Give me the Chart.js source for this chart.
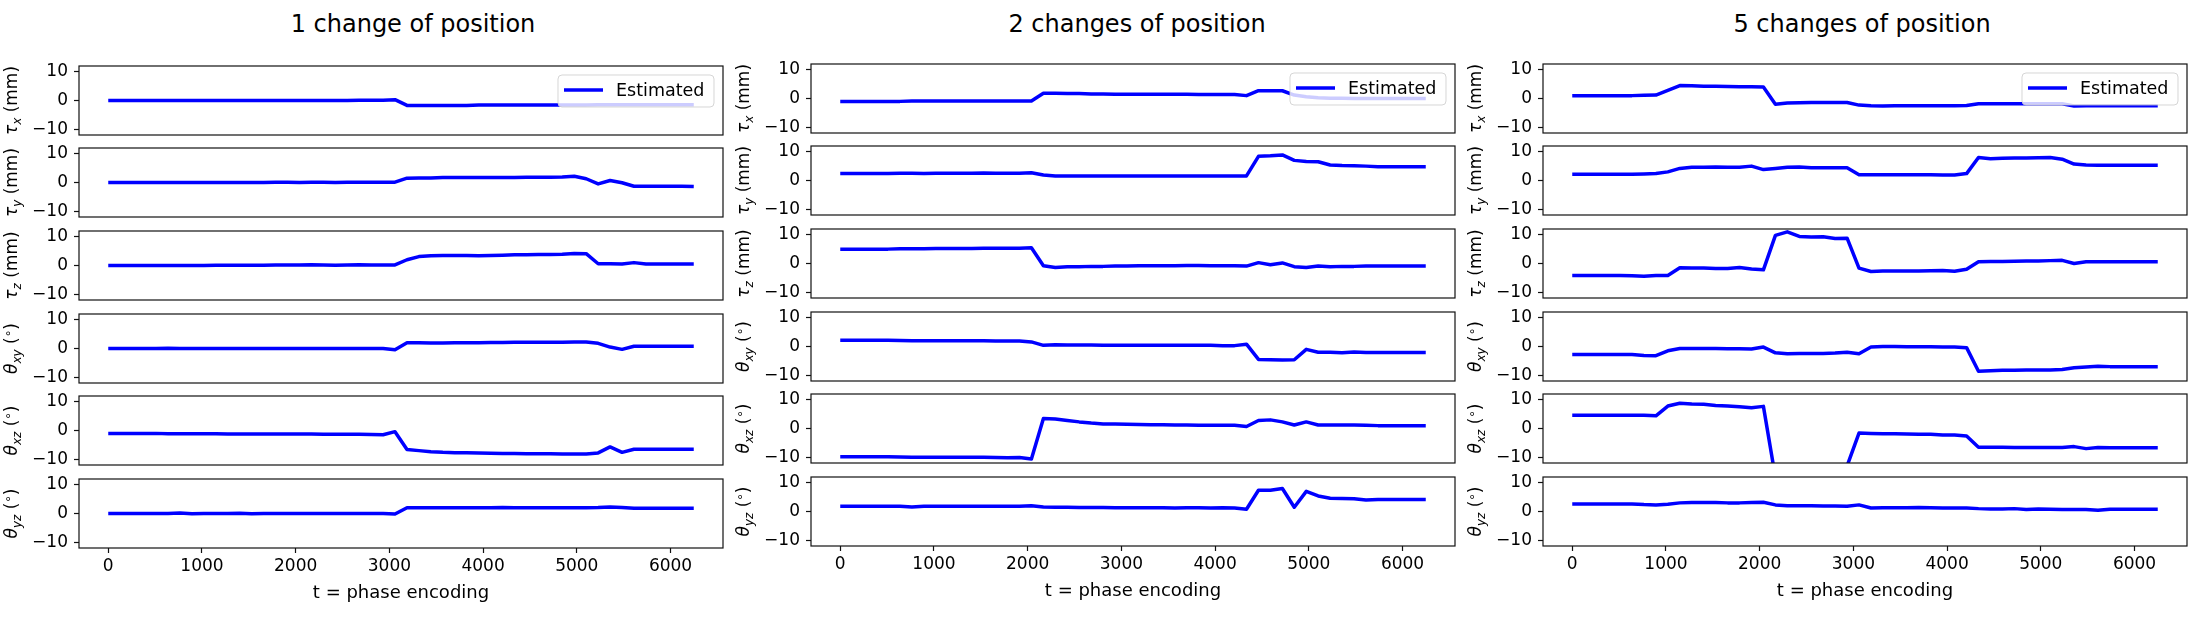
<!DOCTYPE html>
<html>
<head>
  <meta charset="utf-8">
  <title>Estimated motion parameters</title>
  <style>
    body { margin: 0; width: 2203px; height: 621px; overflow: hidden; position: relative; background: #fff; font-family: 'DejaVu Sans', sans-serif; }
    .panel { position: absolute; }
    .title { position: absolute; top: 10px; font-size: 24px; line-height: 28px; white-space: nowrap; transform: translateX(-50%); color: #000; }
  </style>
</head>
<body>
  <script src="https://cdn.jsdelivr.net/npm/chart.js"></script>
  <script>
    // phase-encoding time of each estimate
    const times = [0,128,255,383,510,638,765,893,1020,1148,
      1275,1403,1530,1658,1785,1913,2040,2168,2295,2423,
      2550,2678,2805,2933,3060,3188,3315,3443,3570,3698,
      3825,3953,4080,4208,4335,4463,4590,4718,4845,4973,
      5100,5228,5355,5483,5610,5738,5865,5993,6120,6248];
    const xTicks = [0, 1000, 2000, 3000, 4000, 5000, 6000];
    const yTicks = [-10, 0, 10];
    const colTitles = ['1 change of position', '2 changes of position', '5 changes of position'];
    const seriesLabel = 'Estimated';
    const xTitle = 't = phase encoding';

    // 1 change of position
    const tauX1 = [0,0,0,0,0,0,0,0,0,0, 0,0,0,0,0,0,0,0,0,0, 0,0.1,0.1,0.1,0.3,-1.7,-1.7,-1.7,-1.7,-1.7, -1.7,-1.6,-1.6,-1.6,-1.6,-1.6,-1.6,-1.6,-1.6,-1.6, -1.6,-1.5,-1.5,-1.5,-1.5,-1.5,-1.5,-1.5,-1.5,-1.5];
    const tauY1 = [0,0,0,0,0,0,0,0,0,0, 0,0,0,0,0.1,0.1,0,0.1,0.1,0, 0.1,0.1,0.1,0.1,0.1,1.5,1.6,1.6,1.7,1.7, 1.7,1.7,1.7,1.7,1.7,1.8,1.8,1.8,1.9,2.2, 1.3,-0.5,0.7,-0.1,-1.3,-1.3,-1.3,-1.3,-1.3,-1.4];
    const tauZ1 = [0,0,0,0,0,0,0,0,0,0.1, 0.1,0.1,0.1,0.1,0.2,0.2,0.2,0.3,0.2,0.1, 0.2,0.3,0.2,0.2,0.2,2.0,3.1,3.4,3.5,3.5, 3.5,3.4,3.5,3.6,3.7,3.7,3.8,3.8,3.9,4.2, 4.1,0.6,0.6,0.5,1.0,0.5,0.5,0.5,0.5,0.5];
    const thXY1 = [0,0,0,0,0,0.1,0,0,0,0, 0,0,0,0,0,0,0,0,0,0, 0,0,0,0,-0.4,2.0,2.0,1.9,1.9,2.0, 2.0,2.0,2.1,2.1,2.2,2.2,2.2,2.2,2.2,2.3, 2.3,1.8,0.5,-0.3,0.8,0.8,0.8,0.8,0.8,0.8];
    const thXZ1 = [-1.0,-1.0,-1.0,-1.0,-1.0,-1.1,-1.1,-1.1,-1.1,-1.1, -1.2,-1.2,-1.2,-1.2,-1.2,-1.2,-1.2,-1.2,-1.3,-1.3, -1.3,-1.3,-1.4,-1.5,-0.4,-6.6,-7.0,-7.4,-7.6,-7.7, -7.7,-7.8,-7.9,-8.0,-8.0,-8.1,-8.1,-8.1,-8.2,-8.2, -8.2,-7.8,-5.7,-7.6,-6.5,-6.5,-6.5,-6.5,-6.5,-6.5];
    const thYZ1 = [0,0,0,0,0,0,0.2,-0.1,0,0, 0,0.1,-0.1,0,0,0,0,0,0,0, 0,0,0,0,-0.2,2.0,2.0,2.0,2.0,2.0, 2.0,2.0,2.0,2.1,2.0,2.0,2.0,2.0,2.0,2.0, 2.0,2.1,2.3,2.1,1.8,1.8,1.8,1.8,1.8,1.8];

    // 2 changes of position
    const tauX2 = [-1.0,-1.0,-1.0,-1.0,-1.0,-1.0,-0.9,-0.9,-0.9,-0.9, -0.9,-0.9,-0.9,-0.9,-0.9,-0.9,-0.9,1.8,1.8,1.7, 1.7,1.6,1.6,1.5,1.5,1.5,1.5,1.5,1.5,1.5, 1.4,1.4,1.4,1.4,1.0,2.7,2.7,2.7,1.2,0.6, 0.3,0.1,0.1,0,0,0,0,0,0,0];
    const tauY2 = [2.4,2.4,2.4,2.4,2.4,2.5,2.5,2.4,2.5,2.5, 2.5,2.5,2.6,2.5,2.5,2.5,2.7,1.9,1.6,1.6, 1.6,1.6,1.6,1.6,1.6,1.6,1.6,1.6,1.6,1.6, 1.6,1.6,1.6,1.6,1.6,8.4,8.6,8.9,7.0,6.6, 6.5,5.4,5.2,5.1,5.0,4.8,4.8,4.8,4.8,4.8];
    const tauZ2 = [5.0,5.0,5.0,5.0,5.0,5.1,5.1,5.1,5.2,5.2, 5.2,5.2,5.3,5.3,5.3,5.3,5.5,-0.8,-1.4,-1.1, -1.1,-1.0,-1.0,-0.9,-0.9,-0.8,-0.8,-0.8,-0.8,-0.7, -0.7,-0.8,-0.8,-0.8,-0.9,0.3,-0.4,0.2,-1.1,-1.4, -0.9,-1.1,-1.0,-1.0,-0.9,-0.9,-0.9,-0.9,-0.9,-0.9];
    const thXY2 = [2.2,2.2,2.2,2.2,2.2,2.1,2.0,2.0,2.0,2.0, 2.0,2.0,2.0,1.9,1.9,1.9,1.6,0.4,0.6,0.5, 0.5,0.5,0.4,0.4,0.4,0.4,0.4,0.4,0.4,0.4, 0.4,0.4,0.3,0.3,0.8,-4.5,-4.6,-4.7,-4.6,-1.0, -2.0,-2.0,-2.2,-1.9,-2.1,-2.1,-2.1,-2.1,-2.1,-2.1];
    const thXZ2 = [-9.8,-9.8,-9.8,-9.8,-9.8,-9.9,-10.0,-10.0,-10.0,-10.0, -10.0,-10.0,-10.0,-10.1,-10.2,-10.1,-10.6,3.5,3.3,2.8, 2.3,1.9,1.6,1.6,1.5,1.4,1.3,1.3,1.2,1.2, 1.1,1.1,1.1,1.1,0.7,2.8,3.0,2.3,1.2,2.3, 1.2,1.2,1.2,1.2,1.1,1.0,1.0,1.0,1.0,1.0];
    const thYZ2 = [1.8,1.8,1.8,1.8,1.8,1.8,1.6,1.8,1.8,1.8, 1.8,1.8,1.8,1.8,1.8,1.8,2.0,1.6,1.5,1.5, 1.4,1.4,1.4,1.3,1.3,1.3,1.3,1.3,1.2,1.3, 1.3,1.2,1.3,1.2,0.8,7.4,7.4,8.0,1.5,7.0, 5.4,4.6,4.5,4.4,4.0,4.2,4.2,4.2,4.2,4.2];

    // 5 changes of position
    const tauX5 = [1.0,1.0,1.0,1.0,1.0,1.0,1.1,1.2,2.8,4.5, 4.4,4.3,4.3,4.2,4.1,4.1,4.0,-2.0,-1.6,-1.5, -1.4,-1.4,-1.4,-1.4,-2.3,-2.5,-2.6,-2.5,-2.5,-2.5, -2.5,-2.5,-2.5,-2.4,-1.8,-1.8,-1.8,-1.8,-1.8,-1.8, -1.8,-1.8,-2.6,-2.5,-2.5,-2.5,-2.5,-2.5,-2.5,-2.5];
    const tauY5 = [2.2,2.2,2.2,2.2,2.2,2.2,2.3,2.4,3.0,4.2, 4.6,4.6,4.7,4.6,4.6,5.0,3.8,4.2,4.6,4.7, 4.4,4.4,4.4,4.4,2.0,2.0,2.0,2.0,2.0,2.0, 2.0,1.9,1.9,2.4,8.0,7.6,7.7,7.8,7.8,7.9, 8.0,7.4,5.7,5.4,5.3,5.3,5.3,5.3,5.3,5.3];
    const tauZ5 = [-4.2,-4.2,-4.2,-4.2,-4.2,-4.3,-4.4,-4.2,-4.2,-1.5, -1.6,-1.6,-1.7,-1.7,-1.4,-1.9,-2.2,9.8,11.0,9.4, 9.2,9.3,8.7,8.8,-1.6,-2.8,-2.6,-2.6,-2.6,-2.6, -2.5,-2.4,-2.7,-2.0,0.6,0.7,0.7,0.8,0.9,0.9, 1.0,1.1,0,0.6,0.6,0.6,0.6,0.6,0.6,0.6];
    const thXY5 = [-2.8,-2.8,-2.8,-2.8,-2.8,-2.8,-3.1,-3.2,-1.5,-0.7, -0.7,-0.7,-0.7,-0.8,-0.8,-0.9,-0.2,-2.2,-2.5,-2.4, -2.4,-2.4,-2.3,-2.0,-2.5,-0.2,0,0,-0.1,-0.1, -0.1,-0.2,-0.2,-0.4,-8.6,-8.4,-8.3,-8.3,-8.2,-8.2, -8.2,-8.0,-7.4,-7.1,-6.9,-7.0,-7.0,-7.0,-7.0,-7.0];
    const thXZ5 = [4.6,4.6,4.6,4.6,4.6,4.6,4.6,4.4,7.8,8.8, 8.5,8.4,8.0,7.8,7.6,7.2,7.7,-17,-17,-17, -17,-17,-17,-13,-1.6,-1.7,-1.8,-1.8,-1.9,-2.0, -2.0,-2.3,-2.3,-2.6,-6.5,-6.5,-6.5,-6.6,-6.6,-6.6, -6.6,-6.6,-6.3,-7.0,-6.6,-6.7,-6.7,-6.7,-6.7,-6.7];
    const thYZ5 = [2.6,2.6,2.6,2.6,2.6,2.6,2.4,2.3,2.5,3.0, 3.1,3.1,3.1,3.0,3.0,3.1,3.2,2.3,2.0,2.0, 2.0,1.9,1.9,1.8,2.3,1.2,1.3,1.3,1.3,1.4, 1.3,1.2,1.2,1.2,1.0,0.9,0.9,1.0,0.7,0.9, 0.8,0.7,0.7,0.7,0.4,0.8,0.8,0.8,0.8,0.8];

    const columns = [
      [tauX1, tauY1, tauZ1, thXY1, thXZ1, thYZ1],
      [tauX2, tauY2, tauZ2, thXY2, thXZ2, thYZ2],
      [tauX5, tauY5, tauZ5, thXY5, thXZ5, thYZ5]
    ];

    // y labels: [text, italic, shift] ; shift 1 = subscript, -1 = superscript
    const rowLabels = [
      [['τ', 1, 0], ['x', 1, 1], [' (mm)', 0, 0]],
      [['τ', 1, 0], ['y', 1, 1], [' (mm)', 0, 0]],
      [['τ', 1, 0], ['z', 1, 1], [' (mm)', 0, 0]],
      [['θ', 1, 0], ['xy', 1, 1], [' (', 0, 0], ['∘', 0, -1], [')', 0, 0]],
      [['θ', 1, 0], ['xz', 1, 1], [' (', 0, 0], ['∘', 0, -1], [')', 0, 0]],
      [['θ', 1, 0], ['yz', 1, 1], [' (', 0, 0], ['∘', 0, -1], [')', 0, 0]]
    ];

    const LINE = '#0000ff';
    const FONT = "'DejaVu Sans', sans-serif";
    const plotLeft = [79, 811, 1543];
    const plotW = 644, plotH = 69;
    const plotTops = [[66, 148, 231, 314, 396, 479], [64, 146, 229, 312, 394, 477], [64, 146, 229, 312, 394, 477]];
    const titleX = [413, 1137, 1862];
    const AX_W = 80, PAD = 12, XAX_H = 64;

    Chart.defaults.font.family = FONT;
    Chart.defaults.color = '#000';

    function makeDecor(parts, withLegend) {
      return {
        id: 'decor',
        afterDraw(chart) {
          const { ctx, chartArea: a } = chart;
          ctx.save();
          // frame
          ctx.strokeStyle = '#111';
          ctx.lineWidth = 1.2;
          ctx.strokeRect(a.left, a.top, a.right - a.left, a.bottom - a.top);

          // rotated y label
          const fontOf = p => (p[1] ? 'italic ' : '') + (p[2] ? 12 : 17) + 'px ' + FONT;
          let total = 0;
          parts.forEach(p => { ctx.font = fontOf(p); total += ctx.measureText(p[0]).width; });
          ctx.translate(a.left - 62, (a.top + a.bottom) / 2);
          ctx.rotate(-Math.PI / 2);
          ctx.fillStyle = '#000';
          ctx.textBaseline = 'alphabetic';
          let x = -total / 2;
          parts.forEach(p => {
            ctx.font = fontOf(p);
            const dy = p[2] === 1 ? 4 : (p[2] === -1 ? -5 : 0);
            ctx.fillText(p[0], x, dy);
            x += ctx.measureText(p[0]).width;
          });
          ctx.restore();

          if (withLegend) {
            ctx.save();
            const w = 156, h = 32;
            const x0 = a.right - 9 - w, y0 = a.top + 9;
            ctx.beginPath();
            ctx.roundRect(x0, y0, w, h, 4);
            ctx.fillStyle = 'rgba(255,255,255,0.8)';
            ctx.fill();
            ctx.strokeStyle = 'rgba(204,204,204,0.8)';
            ctx.lineWidth = 1;
            ctx.stroke();
            ctx.strokeStyle = LINE;
            ctx.lineWidth = 3.5;
            ctx.beginPath();
            ctx.moveTo(x0 + 6, y0 + 15);
            ctx.lineTo(x0 + 45, y0 + 15);
            ctx.stroke();
            ctx.fillStyle = '#000';
            ctx.font = '17.5px ' + FONT;
            ctx.textBaseline = 'middle';
            ctx.fillText(chart.data.datasets[0].label, x0 + 58, y0 + 16);
            ctx.restore();
          }
        }
      };
    }

    colTitles.forEach((t, c) => {
      const d = document.createElement('div');
      d.className = 'title';
      d.style.left = titleX[c] + 'px';
      d.textContent = t;
      document.body.appendChild(d);
    });

    columns.forEach((col, c) => {
      col.forEach((vals, r) => {
        const bottom = r === col.length - 1;
        const box = document.createElement('div');
        box.className = 'panel';
        box.style.left = (plotLeft[c] - AX_W) + 'px';
        box.style.top = (plotTops[c][r] - PAD) + 'px';
        box.style.width = (AX_W + plotW + PAD) + 'px';
        box.style.height = (PAD + plotH + (bottom ? XAX_H : PAD)) + 'px';
        const cv = document.createElement('canvas');
        box.appendChild(cv);
        document.body.appendChild(box);

        new Chart(cv, {
          type: 'line',
          data: {
            datasets: [{
              label: seriesLabel,
              data: times.map((t, i) => ({ x: t, y: vals[i] })),
              borderColor: LINE,
              borderWidth: 3.5,
              borderJoinStyle: 'round',
              pointRadius: 0,
              tension: 0,
              fill: false
            }]
          },
          options: {
            responsive: true,
            maintainAspectRatio: false,
            animation: false,
            devicePixelRatio: 1,
            layout: { padding: { left: 0, right: PAD, top: PAD, bottom: bottom ? 0 : PAD } },
            plugins: { legend: { display: false }, tooltip: { enabled: false } },
            scales: {
              x: {
                type: 'linear',
                min: -312,
                max: 6560,
                display: bottom,
                afterBuildTicks: s => { s.ticks = xTicks.map(v => ({ value: v })); },
                afterFit: s => { s.height = bottom ? XAX_H : 0; s.paddingLeft = 0; s.paddingRight = 0; },
                grid: { drawOnChartArea: false, drawTicks: true, tickLength: 5, tickColor: '#111', tickWidth: 1.2 },
                border: { display: false },
                ticks: { font: { size: 17 }, padding: 3, maxRotation: 0, autoSkip: false, callback: v => String(v) },
                title: { display: true, text: xTitle, font: { size: 18 }, padding: { top: 0, bottom: 8 } }
              },
              y: {
                min: -12,
                max: 12,
                afterBuildTicks: s => { s.ticks = yTicks.map(v => ({ value: v })); },
                afterFit: s => { s.width = AX_W; s.paddingTop = 0; s.paddingBottom = 0; },
                grid: { drawOnChartArea: false, drawTicks: true, tickLength: 5, tickColor: '#111', tickWidth: 1.2 },
                border: { display: false },
                ticks: {
                  font: { size: 17 },
                  padding: 6,
                  callback: v => (v < 0 ? '\u2212' + Math.abs(v) : String(v))
                }
              }
            }
          },
          plugins: [makeDecor(rowLabels[r], r === 0)]
        });
      });
    });
  </script>
</body>
</html>
